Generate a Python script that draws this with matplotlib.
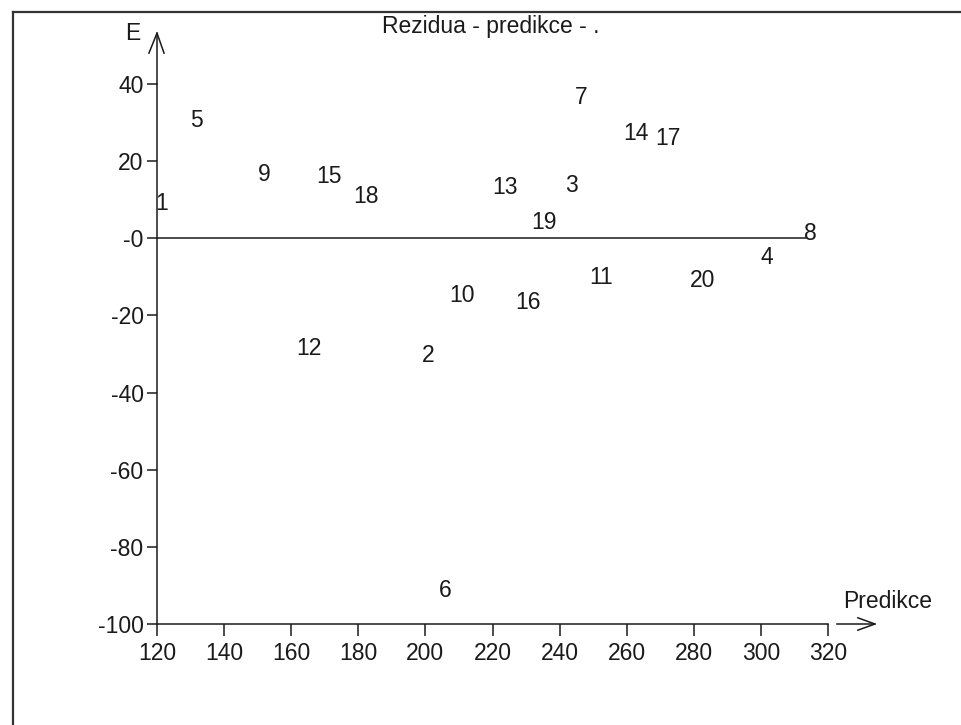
import matplotlib
matplotlib.use("Agg")
import matplotlib.pyplot as plt
from matplotlib.lines import Line2D
from matplotlib.transforms import offset_copy

obs = [1, 2, 3, 4, 5, 6, 7, 8, 9, 10, 11, 12, 13, 14, 15, 16, 17, 18, 19, 20]
predikce = [120.0, 199.4, 242.1, 300.5, 130.6, 204.5, 245.0, 313.4, 150.8, 207.8,
            249.5, 162.2, 220.6, 259.6, 168.1, 227.5, 269.2, 179.2, 232.2, 279.3]
rezidua = [9.1, -30.3, 13.7, -4.9, 30.5, -91.3, 36.5, 1.3, 16.6, -14.8,
           -10.1, -28.5, 13.2, 27.2, 16.0, -16.6, 25.9, 10.9, 4.1, -10.9]

x_ticks = [120, 140, 160, 180, 200, 220, 240, 260, 280, 300, 320]
y_ticks = [40, 20, 0, -20, -40, -60, -80, -100]
y_ticklabels = ["40", "20", "-0", "-20", "-40", "-60", "-80", "-100"]

W, H = 961, 725
plt.rcParams["font.family"] = ["Liberation Sans", "DejaVu Sans"]
ink = "#1a1a1a"
fs = 16.5

fig = plt.figure(figsize=(W / 100, H / 100), dpi=100)
fig.patch.set_facecolor("white")

# axes placed so 120..320 and -100..40 land where the reference has them
x0, x1 = 157, 828
yb, yt = 624, 84
ax = fig.add_axes([x0 / W, 1 - yb / H, (x1 - x0) / W, (yb - yt) / H])
ax.set_xlim(120, 320)
ax.set_ylim(-100, 40)
ax.patch.set_alpha(0)
for s in ["top", "right"]:
    ax.spines[s].set_visible(False)
for s in ["left", "bottom"]:
    ax.spines[s].set_color(ink)
    ax.spines[s].set_linewidth(1.1)

ax.set_xticks(x_ticks)
ax.set_yticks(y_ticks)
ax.set_yticklabels(y_ticklabels)
ax.tick_params(axis="x", direction="out", length=8.6, width=1.1, color=ink,
               labelsize=fs, labelcolor=ink, pad=4)
ax.tick_params(axis="y", direction="out", length=7.2, width=1.1, color=ink,
               labelsize=fs, labelcolor=ink, pad=2.5)

# zero line
ax.hlines(0, min(predikce), max(predikce), color=ink, lw=1.1)

# points drawn as their observation numbers
label_tr = offset_copy(ax.transData, fig=fig, x=-2, y=0, units="dots")
for n, xv, yv in zip(obs, predikce, rezidua):
    ax.text(xv, yv, str(n), ha="left", va="center", fontsize=fs, color=ink,
            transform=label_tr)

# axis arrows
ax.plot([120, 120], [40, 53.2], color=ink, lw=1.1, clip_on=False)
ax.plot([117.6, 120, 122.1], [48.0, 53.2, 48.0], color=ink, lw=1.1, clip_on=False)
ax.plot([322.7, 334.0], [-100, -100], color=ink, lw=1.1, clip_on=False)
ax.plot([328.9, 334.0, 328.9], [-98.4, -100, -101.6], color=ink, lw=1.1, clip_on=False)

fig.text(491 / W, 1 - 27 / H, "Rezidua - predikce - .", ha="center", va="center",
         fontsize=fs, color=ink)
fig.text(133 / W, 1 - 33 / H, "E", ha="center", va="center", fontsize=fs, color=ink)
fig.text(843 / W, 1 - 602 / H, "Predikce", ha="left", va="center", fontsize=fs, color=ink)

# frame around the picture (right and bottom edges cut off)
fig.add_artist(Line2D([13 / W, 13 / W], [0, 1 - 12 / H], color="#333333", lw=1.6))
fig.add_artist(Line2D([13 / W, 1], [1 - 12 / H, 1 - 12 / H], color="#333333", lw=1.6))

fig.savefig("out.png", dpi=100)
